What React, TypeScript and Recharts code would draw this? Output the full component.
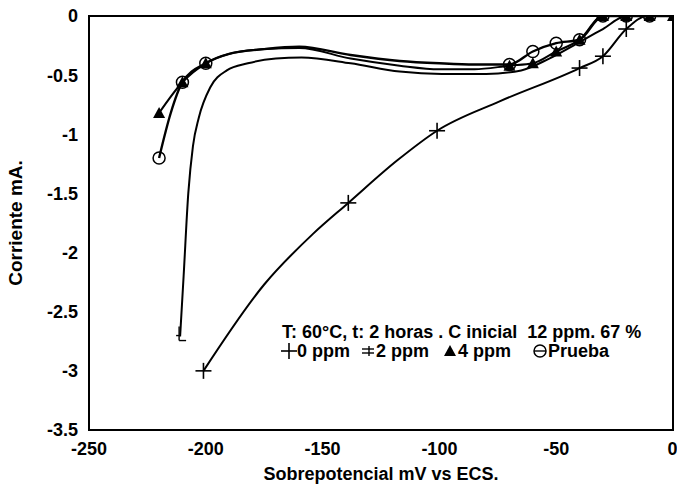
import React from "react";
import {
  ComposedChart,
  Line,
  Scatter,
  XAxis,
  YAxis,
  ReferenceArea,
} from "recharts";

// [sobrepotencial mV, corriente mA]
const ppm0Curve: [number, number][] = [
  [-201, -3.0], [-175, -2.27], [-154, -1.84], [-139, -1.58], [-118, -1.22],
  [-101, -0.97], [-74, -0.72], [-40, -0.44], [-30, -0.34], [-20, -0.11],
  [-11, 0], [0, 0],
];
const ppm0Marks: [number, number][] = [
  [-201, -3.0], [-139, -1.58], [-101, -0.97], [-40, -0.44], [-30, -0.34], [-20, -0.11],
];

const ppm2Curve: [number, number][] = [
  [-211, -2.71], [-209.5, -2.2], [-207.5, -1.5], [-205.5, -1.1], [-203, -0.86],
  [-198, -0.6], [-191, -0.46], [-182, -0.4], [-170, -0.36], [-159, -0.35],
  [-138, -0.4], [-117, -0.47], [-99, -0.49], [-80, -0.49], [-65, -0.46],
  [-53, -0.36], [-40, -0.22], [-30, -0.11], [-20, 0], [0, 0],
];
const ppm2Marks: [number, number][] = [[-211, -2.71]];

const ppm4Curve: [number, number][] = [
  [-220, -0.82], [-210, -0.56], [-200, -0.4], [-190, -0.32], [-175, -0.28],
  [-160, -0.27], [-138, -0.36], [-117, -0.42], [-100, -0.45], [-85, -0.45],
  [-70, -0.42], [-60, -0.4], [-50, -0.3], [-40, -0.2], [-30, 0], [-20, 0],
  [-10, 0], [0, 0],
];
const ppm4Marks: [number, number][] = [
  [-220, -0.82], [-210, -0.56], [-200, -0.4], [-70, -0.42], [-60, -0.4],
  [-50, -0.3], [-40, -0.2], [-30, 0], [-20, 0], [-10, 0], [0, 0],
];

const pruebaCurve: [number, number][] = [
  [-220, -1.2], [-215, -0.82], [-210, -0.56], [-200, -0.4], [-190, -0.32],
  [-175, -0.28], [-160, -0.26], [-138, -0.33], [-117, -0.38], [-100, -0.4],
  [-85, -0.41], [-70, -0.41], [-60, -0.3], [-50, -0.23], [-40, -0.2],
  [-30, 0], [-20, 0], [-10, 0], [0, 0],
];
const pruebaMarks: [number, number][] = [
  [-220, -1.2], [-210, -0.56], [-200, -0.4], [-70, -0.41], [-60, -0.3],
  [-50, -0.23], [-40, -0.2], [-30, 0], [-20, 0], [-10, 0],
];

const xTicks = [-250, -200, -150, -100, -50, 0];
const yTicks = [0, -0.5, -1, -1.5, -2, -2.5, -3, -3.5];

const note = "T: 60°C, t: 2 horas . C inicial  12 ppm. 67 %";

const toPts = (a: [number, number][]) => a.map(([x, y]) => ({ x, y }));

const FONT = '"Liberation Sans", Arial, sans-serif';

const Cross = ({ cx, cy }: any) => (
  <g stroke="#000" strokeWidth={1.6}>
    <line x1={cx - 8} y1={cy} x2={cx + 8} y2={cy} />
    <line x1={cx} y1={cy - 8} x2={cx} y2={cy + 8} />
  </g>
);

const Ell = ({ cx, cy }: any) => (
  <g stroke="#000" strokeWidth={1.4} fill="none">
    <line x1={cx - 1} y1={cy - 10} x2={cx - 1} y2={cy + 4} />
    <line x1={cx - 1} y1={cy + 4} x2={cx + 6} y2={cy + 4} />
    <line x1={cx - 4} y1={cy - 1} x2={cx - 1} y2={cy - 1} />
  </g>
);

const Tri = ({ cx, cy }: any) => (
  <polygon
    points={`${cx},${cy - 6} ${cx - 6},${cy + 5} ${cx + 6},${cy + 5}`}
    fill="#000"
  />
);

const Ring = ({ cx, cy }: any) => (
  <circle cx={cx} cy={cy} r={6} fill="none" stroke="#000" strokeWidth={1.5} />
);

const lineProps = {
  type: "monotone" as const,
  dataKey: "y",
  stroke: "#000",
  strokeWidth: 2,
  dot: false,
  activeDot: false,
  isAnimationActive: false,
  legendType: "none" as const,
};

const tickStyle = { fill: "#000", fontSize: 18, fontFamily: FONT, fontWeight: "bold" };

function Key({ left, icon, label }: { left: number; icon: React.ReactNode; label: string }) {
  return (
    <div style={{ position: "absolute", left, top: 0, display: "flex", alignItems: "center" }}>
      <svg width={16} height={20}>{icon}</svg>
      <span>{label}</span>
    </div>
  );
}

export default function App() {
  return (
    <div
      style={{
        position: "absolute",
        left: 0,
        top: 0,
        width: 677,
        height: 487,
        background: "#fff",
        fontFamily: FONT,
      }}
    >
      <ComposedChart
        width={677}
        height={487}
        margin={{ top: 16, right: 4, left: 0, bottom: 0 }}
      >
        <XAxis
          dataKey="x"
          type="number"
          domain={[-250, 0]}
          ticks={xTicks}
          allowDataOverflow
          axisLine={false}
          tickLine={false}
          tickMargin={6}
          height={57}
          tick={tickStyle}
          label={{
            value: "Sobrepotencial mV vs ECS.",
            position: "insideBottom",
            offset: 7,
            fill: "#000",
            fontSize: 18,
            fontWeight: "bold",
            fontFamily: FONT,
          }}
        />
        <YAxis
          dataKey="y"
          type="number"
          domain={[-3.5, 0]}
          ticks={yTicks}
          allowDataOverflow
          axisLine={false}
          tickLine={false}
          tickMargin={5}
          width={89}
          tickFormatter={(v) => String(v)}
          tick={tickStyle}
          label={{
            value: "Corriente mA.",
            angle: -90,
            position: "insideLeft",
            offset: 15,
            style: { textAnchor: "middle" },
            fill: "#000",
            fontSize: 19,
            fontWeight: "bold",
            fontFamily: FONT,
          }}
        />
        <ReferenceArea
          x1={-250}
          x2={0}
          y1={-3.5}
          y2={0}
          fill="none"
          stroke="#000"
          strokeWidth={2}
          ifOverflow="visible"
        />
        <Line {...lineProps} data={toPts(ppm0Curve)} name="0 ppm" />
        <Line {...lineProps} data={toPts(ppm2Curve)} name="2 ppm" />
        <Line {...lineProps} data={toPts(ppm4Curve)} name="4 ppm" />
        <Line {...lineProps} data={toPts(pruebaCurve)} name="Prueba" strokeWidth={2.4} />
        <Scatter data={toPts(ppm0Marks)} dataKey="y" shape={Cross} isAnimationActive={false} />
        <Scatter data={toPts(ppm2Marks)} dataKey="y" shape={Ell} isAnimationActive={false} />
        <Scatter data={toPts(ppm4Marks)} dataKey="y" shape={Tri} isAnimationActive={false} />
        <Scatter data={toPts(pruebaMarks)} dataKey="y" shape={Ring} isAnimationActive={false} />
      </ComposedChart>

      <div
        style={{
          position: "absolute",
          left: 282,
          top: 322,
          fontSize: 18,
          lineHeight: "21px",
          fontWeight: "bold",
          whiteSpace: "pre",
          color: "#000",
        }}
      >
        {note}
      </div>
      <div
        style={{
          position: "absolute",
          left: 0,
          top: 341,
          width: 677,
          height: 20,
          fontSize: 18,
          lineHeight: "20px",
          fontWeight: "bold",
          whiteSpace: "pre",
          color: "#000",
        }}
      >
        <Key left={281} icon={<Cross cx={8} cy={10} />} label="0 ppm" />
        <Key
          left={360}
          icon={
            <g stroke="#000" strokeWidth={1.4}>
              <line x1={2} y1={8} x2={14} y2={8} />
              <line x1={2} y1={12} x2={14} y2={12} />
              <line x1={9} y1={5} x2={9} y2={15} />
            </g>
          }
          label="2 ppm"
        />
        <Key left={442} icon={<Tri cx={8} cy={10} />} label="4 ppm" />
        <Key
          left={532}
          icon={
            <g>
              <Ring cx={8} cy={10} />
              <line x1={2} y1={10} x2={14} y2={10} stroke="#000" strokeWidth={1.4} />
            </g>
          }
          label="Prueba"
        />
      </div>
    </div>
  );
}
